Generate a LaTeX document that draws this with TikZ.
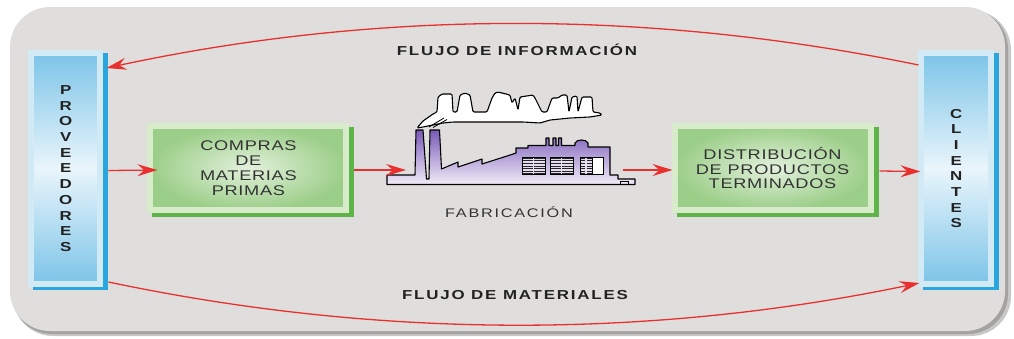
\documentclass[tikz,border=0pt]{standalone}
\usepackage{fontspec}
\setmainfont{Liberation Sans}
\newfontfamily\lblfont{Liberation Sans}[FakeStretch=1.3,LetterSpace=5]
\newfontfamily\headfont{Liberation Sans}[FakeStretch=1.3,LetterSpace=14]
\newfontfamily\colfont{Liberation Sans}[FakeStretch=1.3]
\usetikzlibrary{arrows.meta}

\definecolor{panel}{HTML}{DFDEDC}
\definecolor{panelshade}{HTML}{A4A3A1}
\definecolor{flowred}{HTML}{E8302E}
\definecolor{bluedeep}{HTML}{7CC4E8}
\definecolor{bluepale}{HTML}{E9F5FB}
\definecolor{blueframe}{HTML}{D2EAF6}
\definecolor{blueshadow}{HTML}{29A6DE}
\definecolor{greendeep}{HTML}{9BCE88}
\definecolor{greenpale}{HTML}{E3F1DC}
\definecolor{greenframe}{HTML}{D8ECCB}
\definecolor{greenshadow}{HTML}{5DB54A}
\definecolor{ink}{HTML}{222222}
\definecolor{labelink}{HTML}{333333}
\definecolor{plantdark}{HTML}{7A5AB8}
\definecolor{plantlight}{HTML}{F1ECF8}
\definecolor{winfill}{HTML}{E4DDF0}

\tikzset{
  column/.style={rectangle, inner sep=0pt, outer sep=0pt,
    minimum width=69.5pt, minimum height=231pt,
    preaction={fill=blueshadow, draw=blueshadow, line width=6pt,
      transform canvas={shift={(5pt,-3pt)}}},
    top color=bluedeep, bottom color=bluedeep, middle color=bluepale,
    draw=blueframe, line width=6pt,
    font={\colfont\bfseries\fontsize{13}{15.7}\selectfont}, text=ink, align=center},
  stagebox/.style={rectangle, inner sep=0pt, outer sep=0pt,
    minimum width=196pt, minimum height=84.6pt,
    preaction={fill=greenshadow, draw=greenshadow, line width=6pt,
      transform canvas={shift={(5pt,-4pt)}}},
    inner color=greenpale, outer color=greendeep,
    draw=greenframe, line width=6pt,
    font={\lblfont\fontsize{14}{14.8}\selectfont}, text=labelink, align=center},
  flowhead/.style={font={\headfont\bfseries\fontsize{13}{14}\selectfont}, text=ink, inner sep=0pt},
  plantlabel/.style={font={\headfont\fontsize{12.5}{14}\selectfont}, text=labelink, inner sep=0pt},
  flow/.style={draw=flowred, line width=1.3pt,
    -{Stealth[length=20pt,width=12pt,inset=7pt]}},
  outline/.style={draw=black, line width=1.1pt, line join=round},
}

\begin{document}
\begin{tikzpicture}[x=1pt,y=-1pt]
\useasboundingbox (0,0) rectangle (1014,338);

% panel with its soft shadow
\fill[panelshade!60!white, rounded corners=40pt] (13,10) rectangle (1011,336);
\fill[panelshade, rounded corners=40pt] (12,9) rectangle (1008,334);
\fill[panel, rounded corners=40pt] (10,7) rectangle (1005,331);

% side columns
\node[column] (prov) at (65.7,168.5) {P\\R\\O\\V\\E\\E\\D\\O\\R\\E\\S};
\node[column] (cli) at (956.2,168.5) {C\\L\\I\\E\\N\\T\\E\\S};

% stage boxes
\node[stagebox] (compras) at (248.4,168) {COMPRAS\\DE\\MATERIAS\\PRIMAS};
\node[stagebox] (distrib) at (772.5,168) {DISTRIBUCIÓN\\DE PRODUCTOS\\TERMINADOS};

% factory: smoke
\draw[outline, fill=white, rounded corners=1.2pt]
  (417,128) -- (423,121) -- (433,114) -- (437,112) -- (438,97) -- (442,94)
  -- (452,94) -- (453,112) -- (457,112) -- (460,95) -- (465,93) -- (470,95)
  -- (473,112) -- (487,112) -- (492,98) -- (495,93) -- (498,92) -- (510,95)
  -- (512,103) -- (515,98) -- (518,110) -- (520,97) -- (533,95) -- (535,98)
  -- (542,112) -- (547,112) -- (552,98) -- (558,98) -- (562,95) -- (567,95)
  -- (569,112) -- (572,97) -- (577,96) -- (578,112) -- (582,97) -- (592,97)
  -- (593,112) -- (600,113) -- (602,115) -- (590,117) -- (570,118) -- (550,120)
  -- (540,123) -- (523,122) -- (503,122) -- (487,122) -- (470,122) -- (453,122)
  -- (443,123) -- (433,125) -- (423,127) -- cycle;
\draw[black, line width=0.8pt] (429,127) -- (444,118) (433,127.5) -- (447,119.5);

% factory: chimneys, sheds and main hall
\shade[outline, top color=plantdark, bottom color=plantlight]
  (387,184.5) -- (387,175) -- (415,175) -- (416,130) -- (423,130) -- (426.5,179)
  -- (429,179) -- (430,130) -- (439.5,130) -- (441.5,169)
  -- (458,162) -- (458,167) -- (482,159) -- (482,164) -- (507,156) -- (516,153)
  -- (516,148) -- (528,148) -- (528,145.5) -- (546,145.5) -- (546,138) -- (549,138)
  -- (549,145.5) -- (553,145.5) -- (553,138) -- (556,138) -- (556,145.5)
  -- (558.5,145.5) -- (558.5,138) -- (561.5,138) -- (561.5,145.5) -- (575,145.5)
  -- (575,143) .. controls (576,139) and (587,139) .. (588,143) -- (588,147)
  -- (610,147) -- (610,175) -- (618,175) -- (618,179) -- (635,179) -- (635,184.5)
  -- cycle;

% factory: windows
\foreach \wl/\wr in {522/545, 550/573, 580/592} {
  \fill[winfill] (\wl,157) rectangle (\wr,174.5);
  \foreach \k in {0,...,6}
    \draw[black!85, line width=1pt] (\wl,158.2+2.6*\k) -- (\wr,158.2+2.6*\k);
  \draw[winfill, line width=1.2pt] ({(\wl+\wr)/2},157.5) -- ({(\wl+\wr)/2},174);
  \draw[black, line width=0.9pt] (\wl,157) rectangle (\wr,174.5);
}
\draw[black, line width=0.9pt, fill=white] (592,157) rectangle (603,174.5);
\draw[black, line width=0.9pt] (620,184.5) -- (620,181.5) -- (628,181.5) -- (628,184.5);

\node[plantlabel] (fab) at (509,212.5) {FABRICACIÓN};
\coordinate (plantin) at (406,170);
\coordinate (plantout) at (623,170);

% flow labels
\node[flowhead] (infolbl) at (517,49.5) {FLUJO DE INFORMACIÓN};
\node[flowhead] (matlbl) at (515,295) {FLUJO DE MATERIALES};

% material flow through the stages
\draw[flow] ([shift={(8pt,-2pt)}]prov.east) -- ([shift={(7pt,-2pt)}]compras.west);
\draw[flow] ([shift={(8pt,-2pt)}]compras.east) -- (plantin);
\draw[flow] (plantout) -- ([shift={(-2pt,-2pt)}]distrib.west);
\draw[flow] ([shift={(9pt,-3pt)}]distrib.east) -- ([shift={(-1pt,-3pt)}]cli.west);

% information flow back to suppliers (arched over the chain)
\draw[flow] ([shift={(-3pt,-12pt)}]cli.north west)
  .. controls (647,9) and (377,10) .. ([shift={(6pt,-15pt)}]prov.north east);
% physical flow of materials (sagging under the chain)
\draw[flow] ([shift={(8pt,2pt)}]prov.south east)
  .. controls (379,339) and (650,339) .. ([shift={(-2pt,1pt)}]cli.south west);
\end{tikzpicture}
\end{document}
